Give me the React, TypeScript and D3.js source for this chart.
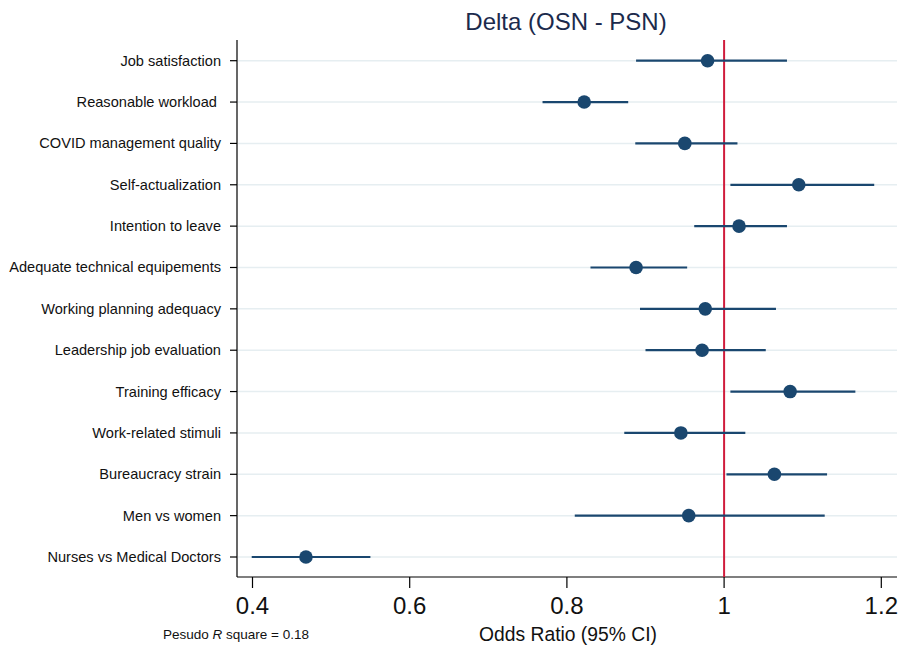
import React, { useEffect, useRef } from 'react'
import * as d3 from 'd3'

// rows, top to bottom
const labels = [
  'Job satisfaction',
  'Reasonable workload ',
  'COVID management quality',
  'Self-actualization',
  'Intention to leave',
  'Adequate technical equipements',
  'Working planning adequacy',
  'Leadership job evaluation',
  'Training efficacy',
  'Work-related stimuli',
  'Bureaucracy strain',
  'Men vs women',
  'Nurses vs Medical Doctors',
]
const oddsRatio = [0.979, 0.822, 0.950, 1.095, 1.019, 0.888, 0.976, 0.972, 1.084, 0.945, 1.064, 0.955, 0.468]
const ciLow = [0.888, 0.769, 0.887, 1.008, 0.962, 0.830, 0.893, 0.900, 1.008, 0.873, 1.003, 0.810, 0.399]
const ciHigh = [1.080, 0.878, 1.017, 1.191, 1.080, 0.953, 1.066, 1.053, 1.167, 1.027, 1.131, 1.128, 0.550]
const xTicks = [0.4, 0.6, 0.8, 1, 1.2]

export default function App() {
  const ref = useRef<SVGSVGElement>(null)

  useEffect(() => {
    const svg = d3.select(ref.current)
    svg.selectAll('*').remove()

    const left = 237, right = 897, top = 40, bottom = 577
    const font = 'Arial, "Liberation Sans", sans-serif'
    const navy = '#1a476f'

    const x = d3.scaleLinear().domain([0.4, 1.2]).range([252.5, 881.3])
    const y = d3.scalePoint<string>().domain(labels).range([60.7, 557])

    // title
    svg.append('text')
      .attr('x', 566).attr('y', 30)
      .attr('text-anchor', 'middle')
      .attr('font-family', font).attr('font-size', 24)
      .attr('fill', '#1b2a4c')
      .text('Delta (OSN - PSN)')

    // grid lines
    svg.append('g').selectAll('line')
      .data(labels).enter().append('line')
      .attr('x1', left + 1).attr('x2', right)
      .attr('y1', d => y(d)!).attr('y2', d => y(d)!)
      .attr('stroke', '#e6eef1').attr('stroke-width', 1.5)

    // y axis
    const yAxis = svg.append('g')
    yAxis.append('line')
      .attr('x1', left).attr('x2', left).attr('y1', top).attr('y2', bottom)
      .attr('stroke', '#000').attr('stroke-width', 1.2)
    yAxis.selectAll('line.tick')
      .data(labels).enter().append('line')
      .attr('class', 'tick')
      .attr('x1', left - 7).attr('x2', left)
      .attr('y1', d => y(d)!).attr('y2', d => y(d)!)
      .attr('stroke', '#000').attr('stroke-width', 1.2)
    yAxis.selectAll('text')
      .data(labels).enter().append('text')
      .attr('x', 221).attr('y', d => y(d)! + 5)
      .attr('text-anchor', 'end')
      .attr('font-family', font).attr('font-size', 14.6)
      .style('white-space', 'pre')
      .attr('fill', '#111')
      .text(d => d)

    // x axis
    const xAxis = svg.append('g')
    xAxis.append('line')
      .attr('x1', left).attr('x2', right).attr('y1', bottom).attr('y2', bottom)
      .attr('stroke', '#000').attr('stroke-width', 1.2)
    xAxis.selectAll('line.tick')
      .data(xTicks).enter().append('line')
      .attr('class', 'tick')
      .attr('x1', d => x(d)).attr('x2', d => x(d))
      .attr('y1', bottom).attr('y2', bottom + 11)
      .attr('stroke', '#000').attr('stroke-width', 1.2)
    xAxis.selectAll('text')
      .data(xTicks).enter().append('text')
      .attr('x', d => x(d)).attr('y', 614)
      .attr('text-anchor', 'middle')
      .attr('font-family', font).attr('font-size', 24)
      .attr('fill', '#111')
      .text(d => d3.format('')(d))

    svg.append('text')
      .attr('x', 568).attr('y', 641)
      .attr('text-anchor', 'middle')
      .attr('font-family', font).attr('font-size', 19.3)
      .attr('fill', '#111')
      .text('Odds Ratio (95% CI)')

    const note = svg.append('text')
      .attr('x', 163).attr('y', 639)
      .attr('font-family', font).attr('font-size', 13.5)
      .attr('fill', '#111')
    note.append('tspan').text('Pesudo ')
    note.append('tspan').attr('font-style', 'italic').text('R')
    note.append('tspan').text(' square = 0.18')

    // reference line at 1
    svg.append('line')
      .attr('x1', x(1)).attr('x2', x(1)).attr('y1', top).attr('y2', bottom)
      .attr('stroke', '#d01c3c').attr('stroke-width', 2)

    // CIs and points
    const rows = labels.map((l, i) => ({ l, or: oddsRatio[i], lo: ciLow[i], hi: ciHigh[i] }))
    svg.append('g').selectAll('line')
      .data(rows).enter().append('line')
      .attr('x1', d => x(d.lo)).attr('x2', d => x(d.hi))
      .attr('y1', d => y(d.l)!).attr('y2', d => y(d.l)!)
      .attr('stroke', navy).attr('stroke-width', 2.2)
    svg.append('g').selectAll('circle')
      .data(rows).enter().append('circle')
      .attr('cx', d => x(d.or)).attr('cy', d => y(d.l)!)
      .attr('r', 6.8)
      .attr('fill', navy)
  }, [])

  return (
    <div style={{ position: 'absolute', left: 0, top: 0 }}>
      <svg ref={ref} width={899} height={645} style={{ display: 'block', background: '#fff' }} />
    </div>
  )
}
